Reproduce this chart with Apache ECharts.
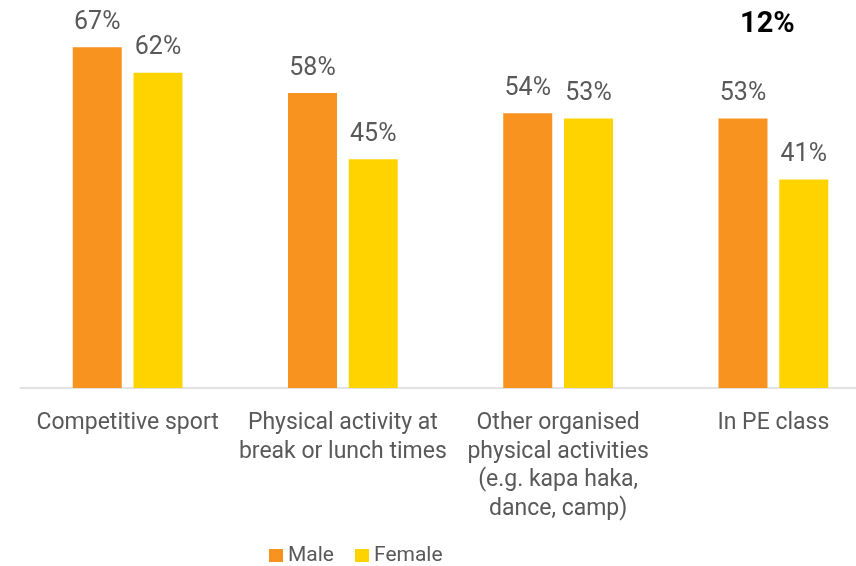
<!DOCTYPE html>
<html>
<head>
<meta charset="utf-8">
<script src="https://cdn.jsdelivr.net/npm/echarts@6/dist/echarts.min.js"></script>
<style>
  html, body { margin: 0; padding: 0; background: #fff; }
  #chart { width: 856px; height: 566px; }
</style>
</head>
<body>
<div id="chart"></div>
<script>
// Participation by activity type, split by gender (percent)
const categories = [
  'Competitive sport',
  'Physical activity at\nbreak or lunch times',
  'Other organised\nphysical activities\n(e.g. kapa haka,\ndance, camp)',
  'In PE class'
];
const maleValues = [67, 58, 54, 53];
const femaleValues = [62, 45, 53, 41];
const seriesNames = ['Male', 'Female'];
const headlineText = '12%';

const FONT = 'Roboto, "Noto Sans", sans-serif';
const GREY = '#595959';

const chart = echarts.init(document.getElementById('chart'));

const valueLabel = {
  show: true,
  position: 'top',
  distance: 12,
  formatter: p => p.value + '%',
  color: GREY,
  fontFamily: FONT,
  fontSize: 25
};

chart.setOption({
  animation: false,
  backgroundColor: '#fff',
  title: {
    text: headlineText,
    left: 735,
    top: 5,
    textStyle: { fontFamily: FONT, fontSize: 29, fontWeight: 'bold', color: '#000' }
  },
  legend: {
    data: seriesNames,
    left: 269,
    top: 545,
    padding: 0,
    itemWidth: 14,
    itemHeight: 13,
    itemGap: 21,
    icon: 'rect',
    textStyle: { fontFamily: FONT, fontSize: 21, color: GREY }
  },
  // plot area runs a little past the right edge of the canvas
  grid: {
    left: 20, right: -25, top: 32, bottom: 178,
    containLabel: false, outerBoundsMode: 'none'
  },
  xAxis: {
    type: 'category',
    data: categories,
    axisTick: { show: false },
    axisLine: { lineStyle: { color: '#d9d9d9', width: 1.5 } },
    axisLabel: {
      interval: 0,
      margin: 21,
      color: GREY,
      fontFamily: FONT,
      fontSize: 23,
      lineHeight: 28.5
    }
  },
  yAxis: {
    type: 'value',
    min: 0,
    max: 70,
    show: false,
    splitLine: { show: false }
  },
  series: [
    {
      name: seriesNames[0],
      type: 'bar',
      data: maleValues,
      barWidth: 49,
      barGap: '24%',
      itemStyle: { color: '#F7931E' },
      label: valueLabel
    },
    {
      name: seriesNames[1],
      type: 'bar',
      data: femaleValues,
      barWidth: 49,
      barGap: '24%',
      itemStyle: { color: '#FFD300' },
      label: valueLabel
    }
  ]
});
</script>
</body>
</html>
